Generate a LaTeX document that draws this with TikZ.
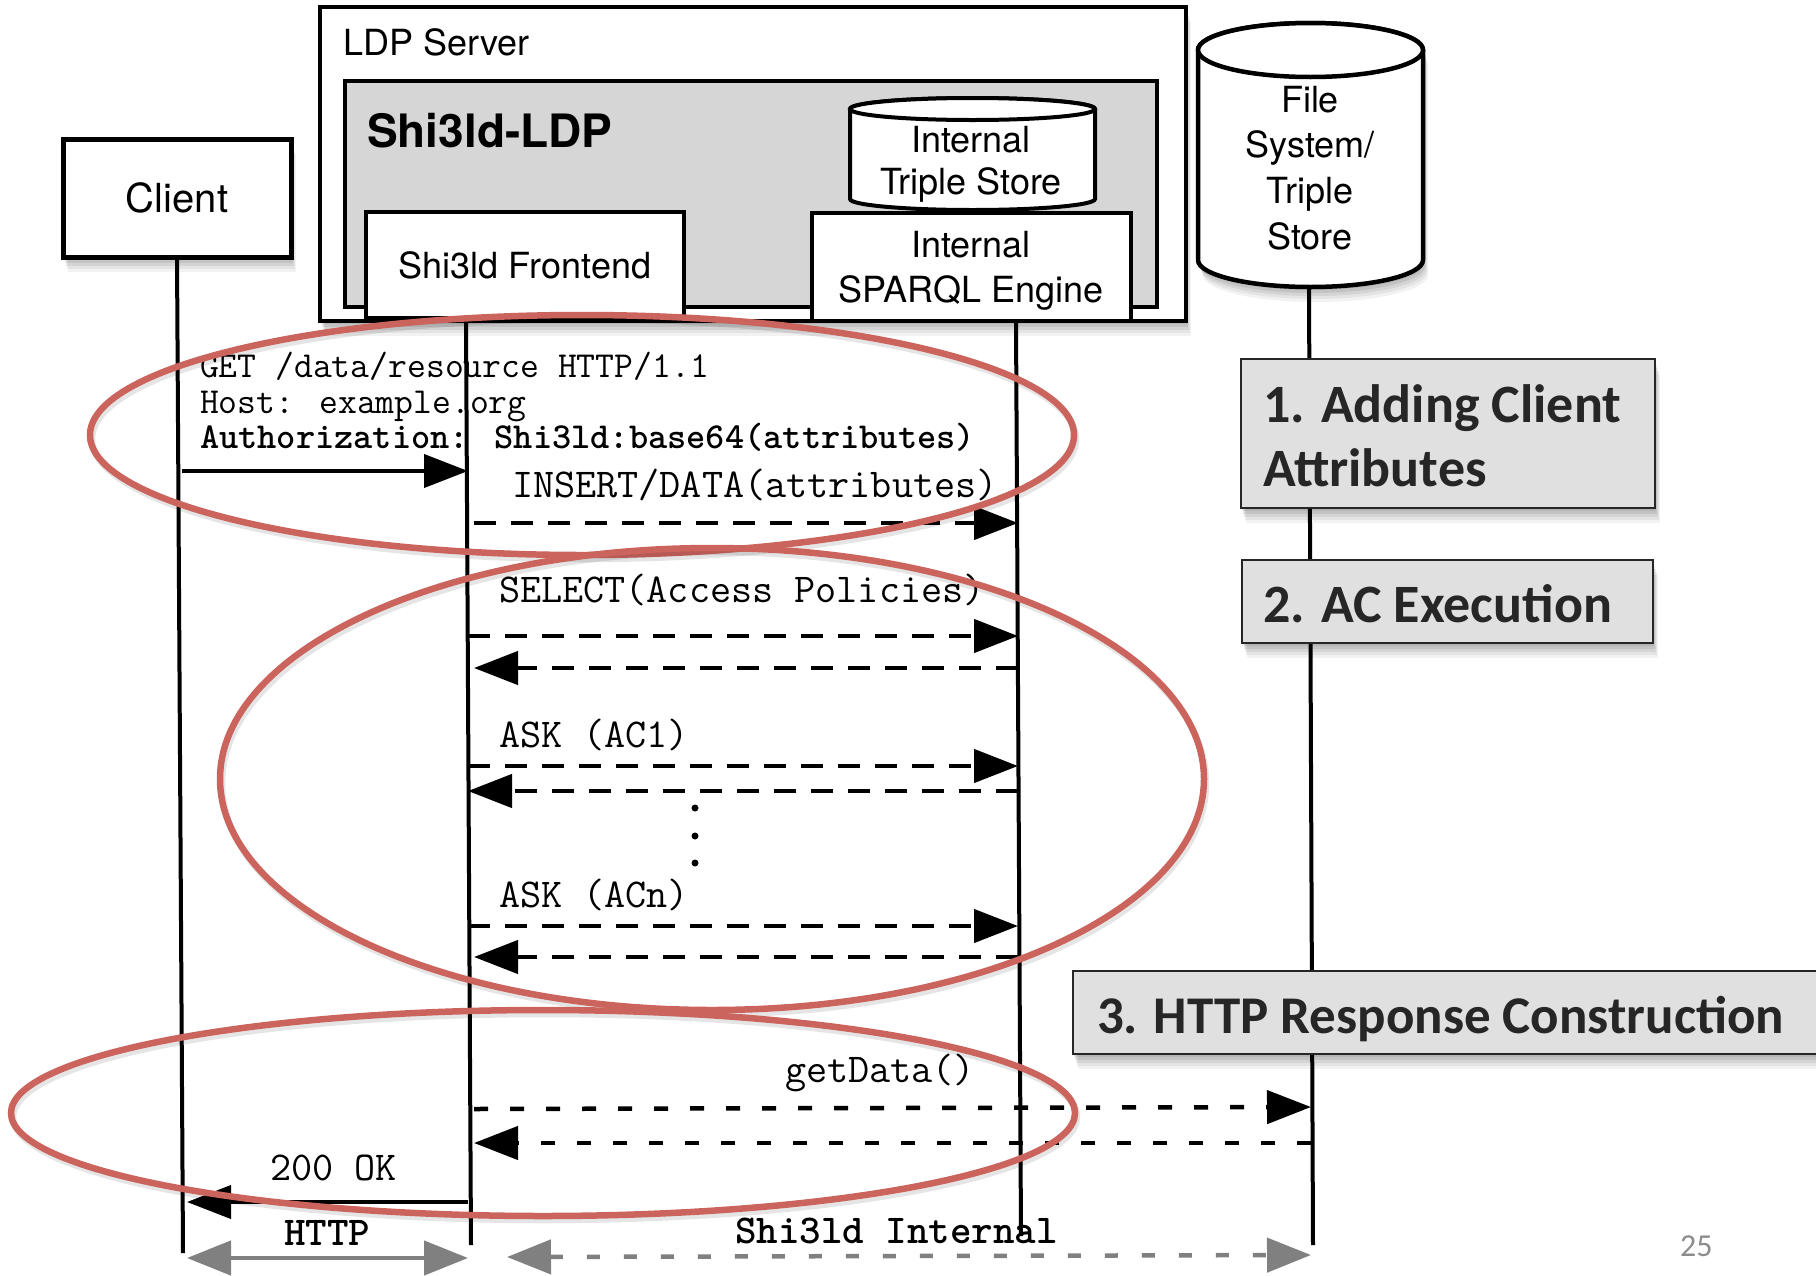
\documentclass[tikz,border=0pt]{standalone}
\usepackage{fontspec}
\newfontfamily\hvfont{TeX Gyre Heros}
\newfontfamily\cbfont{Carlito}
\newcommand\monofont{\ttfamily}
\usetikzlibrary{arrows.meta,shadows}
\definecolor{redc}{RGB}{204,100,94}
\definecolor{ldpgray}{RGB}{214,214,214}
\definecolor{phasegray}{RGB}{224,224,224}
\definecolor{arrgray}{RGB}{128,128,128}
\definecolor{numgray}{RGB}{140,140,140}
\begin{document}
\begin{tikzpicture}[x=1pt,y=-1pt,
  softshadow/.style={
    drop shadow={shadow xshift=1pt,shadow yshift=-3pt,opacity=0.08,fill=black},
    drop shadow={shadow xshift=2pt,shadow yshift=-6pt,opacity=0.08,fill=black},
    drop shadow={shadow xshift=3pt,shadow yshift=-9pt,opacity=0.07,fill=black},
    drop shadow={shadow xshift=4pt,shadow yshift=-12pt,opacity=0.06,fill=black},
    drop shadow={shadow xshift=5pt,shadow yshift=-15pt,opacity=0.05,fill=black}},
  box/.style={draw, fill=white, line width=4.5pt, inner sep=0pt, outer sep=0pt, anchor=north west},
  hvtext/.style={font=\hvfont\fontsize{36}{43}\selectfont, inner sep=0pt, outer sep=0pt, anchor=base},
  hdrtext/.style={font=\monofont\fontsize{36.6}{43}\selectfont, inner sep=0pt, outer sep=0pt, anchor=base west},
  msgtext/.style={font=\monofont\fontsize{41}{48}\selectfont, inner sep=0pt, outer sep=0pt, anchor=base west},
  boldmsg/.style={font=\monofont\bfseries\fontsize{41}{48}\selectfont},
  life/.style={line width=4pt},
  req/.style={line width=4pt, -{Triangle[length=44pt,width=33pt]}},
  dashreq/.style={line width=4.5pt, dash pattern=on 22pt off 15pt, -{Triangle[length=44pt,width=33pt]}},
  getd/.style={line width=4.5pt, dash pattern=on 14pt off 22pt, -{Triangle[length=44pt,width=33pt]}},
  grayarrow/.style={draw=arrgray, line width=4.5pt, {Triangle[length=44pt,width=34pt]}-{Triangle[length=44pt,width=34pt]}},
  oval/.style={draw=redc, line width=6.5pt,
    preaction={draw=black, draw opacity=0.10, line width=6.5pt, transform canvas={xshift=2pt,yshift=-4pt}}},
  phase/.style={draw=black!85, fill=phasegray, line width=2.5pt, inner sep=0pt, outer sep=0pt, anchor=north west, softshadow},
  phasetext/.style={font=\cbfont\bfseries\fontsize{54}{60}\selectfont, text=black!85, inner sep=0pt, outer sep=0pt, anchor=base west}
]
\useasboundingbox (0,0) rectangle (1816,1275);

% ---------------- LDP server ----------------
\node[box, softshadow, minimum width=866pt, minimum height=314pt] (ldp) at (320,7) {};
\node[hvtext, anchor=base west] (ldplabel) at (343,55) {LDP Server};
\node[draw, fill=ldpgray, line width=4.5pt, inner sep=0pt, outer sep=0pt, anchor=north west,
      minimum width=812pt, minimum height=226pt] (shield) at (345,81) {};
\node[anchor=base west, font=\hvfont\bfseries\fontsize{46}{52}\selectfont, inner sep=0pt] (shieldlabel) at (367,147) {Shi3ld-LDP};

% internal triple store (cylinder)
\path[fill=white, draw, line width=4pt] (850,109) -- (850,199)
  arc[start angle=180, end angle=0, x radius=122.5, y radius=11] -- (1095,109)
  arc[start angle=0, end angle=-180, x radius=122.5, y radius=11] -- cycle;
\draw[line width=4pt, fill=white] (972.5,109) ellipse [x radius=122.5, y radius=11];
\node[hvtext] (its1) at (971,152) {Internal};
\node[hvtext] (its2) at (971,194) {Triple Store};

% frontend and SPARQL engine
\node[box, line width=4pt, minimum width=318pt, minimum height=106pt,
      font=\hvfont\fontsize{36}{43}\selectfont] (fe) at (366,212) {Shi3ld Frontend};
\node[box, line width=4pt, minimum width=319pt, minimum height=108pt] (sp) at (812,213) {};
\node[hvtext] (sp1) at (971,257) {Internal};
\node[hvtext] (sp2) at (971,302) {SPARQL Engine};

% ---------------- Client ----------------
\node[box, softshadow, line width=5pt, minimum width=228pt, minimum height=118pt,
      font=\hvfont\fontsize{40}{48}\selectfont] (client) at (63,139) {Client};

% ---------------- File system cylinder ----------------
\path[fill=white, draw, line width=4.5pt, softshadow] (1198,50) -- (1198,260)
  arc[start angle=180, end angle=0, x radius=112.5, y radius=27] -- (1423,50)
  arc[start angle=0, end angle=-180, x radius=112.5, y radius=27] -- cycle;
\draw[line width=4.5pt, fill=white] (1310.5,50) ellipse [x radius=112.5, y radius=27];
\node[hvtext] (fs1) at (1310,112) {File};
\node[hvtext] (fs2) at (1310,157) {System/};
\node[hvtext] (fs3) at (1310,203) {Triple};
\node[hvtext] (fs4) at (1310,249) {Store};

% ---------------- lifelines ----------------
\coordinate (clTop) at (client.south);
\coordinate (clBot) at (183,1253);
\coordinate (feTop) at (466,318);
\coordinate (feBot) at (471,1245);
\coordinate (spTop) at (1016,321);
\coordinate (spBot) at (1021,1236);
\coordinate (fsTop) at (1309,287);
\coordinate (fsBot) at (1313,1245);
\draw[life] (clTop) -- (clBot);
\draw[life] (feTop) -- (feBot);
\draw[life] (spTop) -- (spBot);
\draw[life] (fsTop) -- (fsBot);

% x positions of message ends
\coordinate (clX) at (182,0);
\coordinate (clR) at (187,0);
\coordinate (feX) at (468,0);
\coordinate (feR) at (474,0);
\coordinate (spX) at (1018,0);
\coordinate (fsX) at (1311,0);
\coordinate (giL) at (507,0);

% ---------------- phase boxes ----------------
\node[phase, minimum width=414pt, minimum height=149pt] (ph1) at (1241,359) {};
\node[phasetext] (ph1a) at (1263,422) {1. Adding Client};
\node[phasetext] (ph1b) at (1263,486) {Attributes};
\node[phase, minimum width=411pt, minimum height=83pt] (ph2) at (1242,560) {};
\node[phasetext] (ph2a) at (1263,622) {2. AC Execution};
\node[phase, minimum width=780pt, minimum height=83pt] (ph3) at (1073,971) {};
\node[phasetext, font=\cbfont\bfseries\fontsize{53}{60}\selectfont] (ph3a) at (1097,1033) {3. HTTP Response Construction};

% ---------------- messages ----------------
\node[hdrtext] (get) at (200,377) {GET /data/resource HTTP/1.1};
\node[hdrtext] (host) at (200,413) {Host: example.org};
\node[hdrtext, font=\monofont\bfseries\fontsize{36.6}{43}\selectfont] (auth) at (200,448) {Authorization: Shi3ld:base64(attributes)};
\draw[req] (clX |- 0,471) -- (feX |- 0,471);

\node[msgtext] (ins) at (512,497) {INSERT/DATA(attributes)};
\draw[dashreq] (feR |- 0,523) -- (spX |- 0,523);

\node[msgtext] (sel) at (499,602) {SELECT(Access Policies)};
\draw[dashreq] (feX |- 0,636) -- (spX |- 0,636);
\draw[dashreq] (spX |- 0,668) -- (feR |- 0,668);

\node[msgtext] (ask1) at (499,747) {ASK (AC1)};
\draw[dashreq] (feX |- 0,766) -- (spX |- 0,766);
\draw[dashreq] (spX |- 0,791) -- (feX |- 0,791);

\fill (695,808) circle[radius=3.5pt];
\fill (695,836) circle[radius=3.5pt];
\fill (695,863) circle[radius=3.5pt];

\node[msgtext] (askn) at (499,907) {ASK (ACn)};
\draw[dashreq] (feX |- 0,926) -- (spX |- 0,926);
\draw[dashreq] (spX |- 0,957) -- (feR |- 0,957);

\node[msgtext] (gd) at (785,1082) {getData()};
\draw[getd] (feR |- 0,1109) -- (fsX |- 0,1107);
\draw[getd] (fsX |- 0,1143) -- (feR |- 0,1143);

\node[msgtext] (ok) at (270,1180) {200 OK};
\draw[req] (feX |- 0,1202) -- (clR |- 0,1202);

\node[msgtext, boldmsg] (http) at (284,1245) {HTTP};
\draw[grayarrow] (clR |- 0,1258) -- (feX |- 0,1258);
\node[msgtext, boldmsg] (internal) at (735,1243) {Shi3ld Internal};
\draw[grayarrow, dash pattern=on 13pt off 24pt] (giL |- 0,1257) -- (fsX |- 0,1255);

\node[font=\cbfont\fontsize{32}{38}\selectfont, text=numgray, anchor=base west, inner sep=0pt] (pagenum) at (1680,1256) {25};

% ---------------- red ovals ----------------
\draw[oval] (582,435) ellipse [x radius=492, y radius=120];
\draw[oval] (712,779) ellipse [x radius=492, y radius=231];
\draw[oval] (543,1113) ellipse [x radius=532, y radius=103];
\end{tikzpicture}
\end{document}
